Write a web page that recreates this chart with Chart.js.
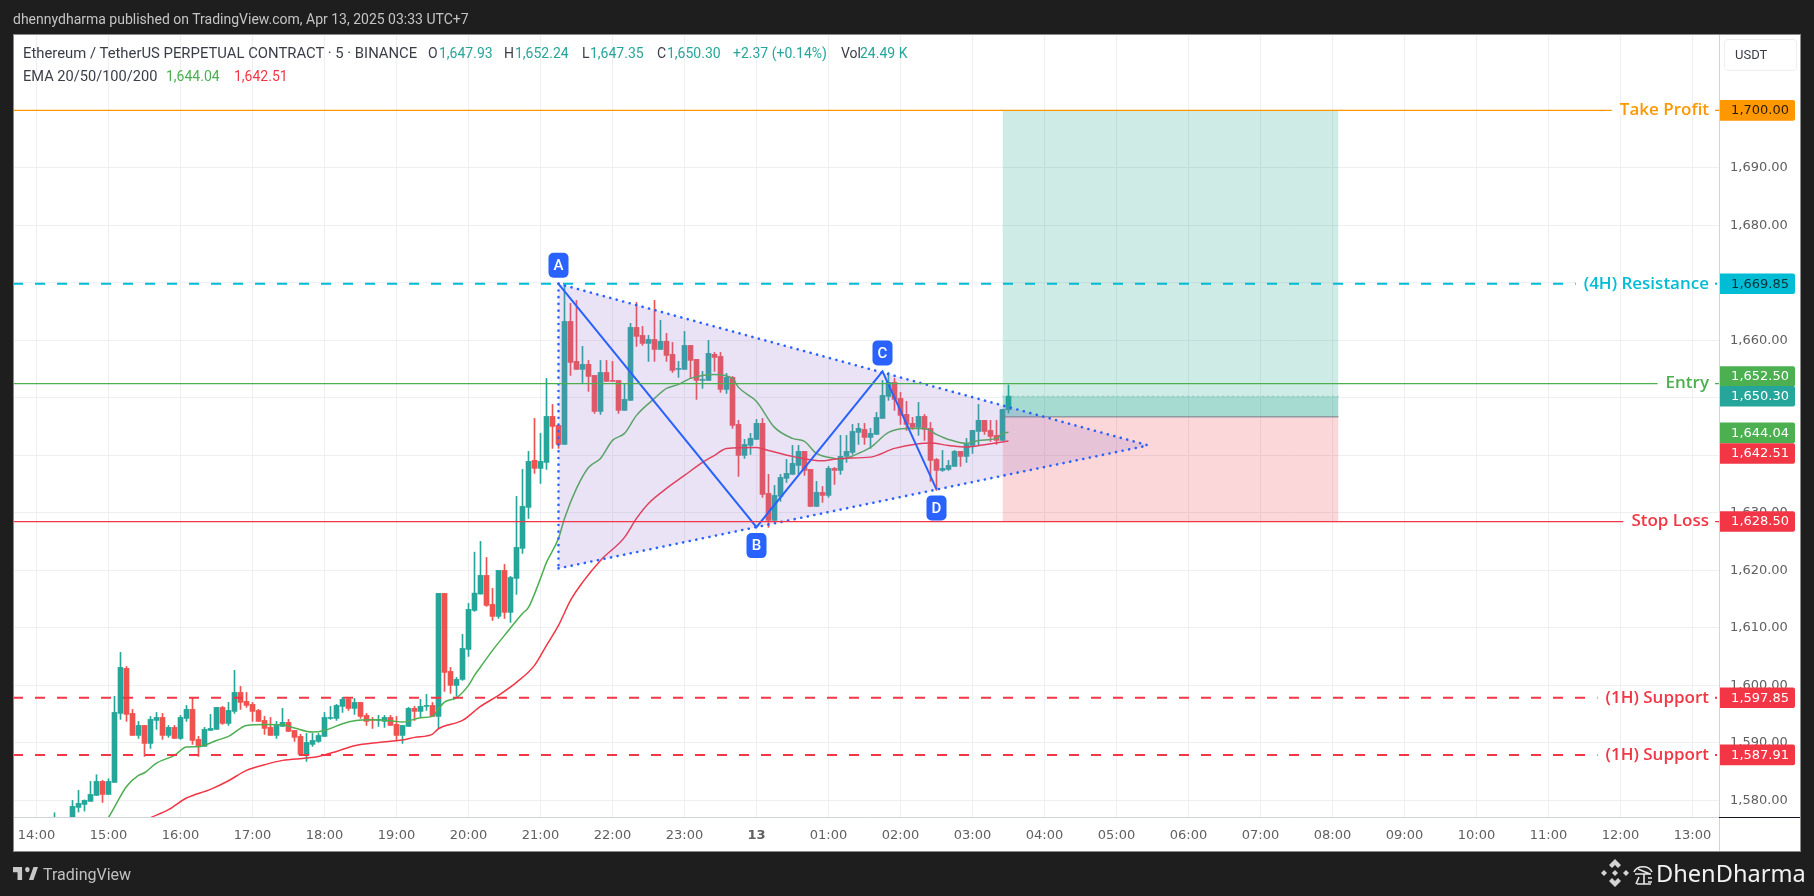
<!DOCTYPE html>
<html>
<head>
<meta charset="utf-8">
<title>ETHUSDT.P 5m</title>
<script src="https://cdn.jsdelivr.net/npm/chart.js@4/dist/chart.umd.min.js"></script>
<style>
  html, body { margin: 0; padding: 0; background: #1e1e1e; }
  body { width: 1814px; height: 896px; overflow: hidden; position: relative; font-family: Roboto, sans-serif; }
  canvas { position: absolute; left: 0; top: 0; }
  .t { position: absolute; white-space: pre; line-height: 18px; font-size: 14px; }
  .dark { color: #3b3e49; }
  .up { color: #26a69a; }
</style>
</head>
<body>
<canvas id="myChart" width="1814" height="896"></canvas>

<div class="t" style="left:13px;top:10px;color:#c4c4c4;font-size:14px">dhennydharma published on TradingView.com, Apr 13, 2025 03:33 UTC+7</div>

<div class="t dark" style="left:23px;top:44px;font-size:14.85px">Ethereum / TetherUS PERPETUAL CONTRACT · 5 · BINANCE</div>
<div class="t dark" style="left:428px;top:44px">O</div><div class="t up" style="left:439px;top:44px">1,647.93</div>
<div class="t dark" style="left:504px;top:44px">H</div><div class="t up" style="left:515px;top:44px">1,652.24</div>
<div class="t dark" style="left:582px;top:44px">L</div><div class="t up" style="left:590px;top:44px">1,647.35</div>
<div class="t dark" style="left:657px;top:44px">C</div><div class="t up" style="left:667px;top:44px">1,650.30</div>
<div class="t up" style="left:733px;top:44px">+2.37 (+0.14%)</div>
<div class="t dark" style="left:841px;top:44px">Vol</div><div class="t up" style="left:860px;top:44px">24.49 K</div>
<div class="t dark" style="left:23px;top:67px;font-size:14.6px">EMA 20/50/100/200</div>
<div class="t" style="left:166px;top:67px;color:#4caf50">1,644.04</div>
<div class="t" style="left:234px;top:67px;color:#f23645">1,642.51</div>

<div style="position:absolute;left:1724px;top:39px;width:71px;height:30px;border:1px solid #eeeeee;border-radius:4px"></div>
<div class="t dark" style="left:1735px;top:46px;font-size:13px">USDT</div>

<svg style="position:absolute;left:13px;top:867px" width="25" height="13" viewBox="2 6 33 15" preserveAspectRatio="none"><path fill="#c8c8c8" d="M14 6H2v6h6v9h6V6zm15 15h-6l6-15h6l-6 15zm-8-9a3 3 0 1 0 0-6 3 3 0 0 0 0 6z"/></svg>
<div class="t" style="left:43px;top:866px;color:#c0c0c0;font-size:16px">TradingView</div>

<svg style="position:absolute;left:1600px;top:858px" width="30" height="30" viewBox="0 0 30 30"><g fill="#d4d4d4"><path d="M15 1l6 6-3 3-3-3-3 3-3-3z"/><path d="M15 29l6-6-3-3-3 3-3-3-3 3z"/><path d="M4 12l3 3-3 3-3-3z"/><path d="M26 12l3 3-3 3-3-3z"/><path d="M15 12l3 3-3 3-3-3z"/></g></svg>
<svg style="position:absolute;left:1632px;top:862px" width="22" height="24" viewBox="0 0 22 24"><g fill="none" stroke="#e8e8e8" stroke-width="1.6"><path d="M2 10C5 3 17 3 20 10"/><path d="M3 12h16M6 7l12 5M5 22h14M12 12v10M7 15l-3 7M16 16h4M16 20h4"/></g></svg>
<div class="t" style="left:1656px;top:858px;color:#f2f2f2;font-size:23.6px;line-height:30px;font-family:'Noto Sans'">DhenDharma</div>

<script>
// first candle sits 3 bars after the 14:00 tick, one bar = 5 minutes
var firstIdx = 3;

var opens = [1574.2,1575.0,1575.9,1576.5,1578.78,1579.30,1579.83,1580.87,1583.30,1581.04,1583.13,1595.13,1602.96,1595.13,1591.30,1593.04,1589.91,1593.91,1594.43,1591.30,1592.70,1590.78,1594.26,1595.83,1590.61,1589.39,1592.17,1592.35,1596.17,1593.39,1595.48,1598.78,1597.22,1596.70,1595.65,1593.91,1592.70,1591.30,1592.87,1593.57,1592.17,1591.13,1588.0,1589.74,1590.26,1591.13,1594.26,1594.26,1596.35,1597.57,1596.0,1597.04,1594.78,1594.09,1593.91,1593.74,1594.43,1593.22,1591.30,1592.87,1596.0,1595.48,1596.35,1596.52,1594.61,1616.0,1602.43,1600.0,1601.04,1606.26,1613.04,1615.88,1619.13,1614.09,1612.0,1620.0,1612.70,1618.61,1623.83,1630.96,1639.13,1637.74,1638.78,1646.78,1645.22,1641.91,1663.30,1656.35,1654.96,1655.83,1653.91,1647.65,1654.43,1653.04,1653.04,1647.83,1649.57,1662.26,1660.87,1659.48,1660.17,1658.43,1659.83,1657.57,1654.96,1654.96,1659.13,1656.70,1653.04,1653.04,1657.57,1657.22,1651.48,1653.57,1645.39,1640.0,1641.74,1642.78,1645.57,1633.39,1628.70,1632.87,1636.0,1636.70,1638.26,1640.70,1637.57,1631.13,1633.57,1633.04,1637.74,1637.39,1639.83,1640.52,1644.0,1644.52,1643.13,1643.65,1646.43,1650.26,1652.70,1649.91,1647.13,1645.57,1644.87,1646.78,1644.70,1639.30,1637.39,1637.57,1638.09,1640.70,1639.83,1641.74,1644.17,1646.09,1644.35,1643.48,1642.61,1647.93];
var highs = [1577.85,1576.4,1576.8,1580.0,1581.74,1580.1,1583.30,1584.46,1583.48,1583.77,1598.09,1605.74,1603.30,1595.83,1593.74,1593.04,1594.61,1595.30,1595.13,1593.04,1593.04,1594.78,1596.52,1597.91,1591.13,1592.70,1594.96,1596.17,1596.35,1597.04,1602.61,1599.83,1598.78,1597.04,1595.83,1594.61,1594.43,1593.74,1596.0,1594.09,1592.17,1591.48,1591.65,1591.65,1591.65,1595.30,1596.35,1596.70,1597.91,1597.74,1597.74,1597.04,1595.13,1594.43,1594.78,1594.78,1594.78,1594.61,1593.04,1596.17,1596.35,1597.57,1598.43,1597.04,1616.0,1616.0,1603.13,1601.39,1608.87,1614.26,1623.18,1625.04,1622.26,1616.87,1620.0,1621.04,1618.96,1632.87,1637.57,1640.70,1646.43,1643.83,1653.39,1648.87,1645.22,1669.91,1666.43,1666.96,1658.96,1656.52,1653.91,1656.52,1656.52,1656.35,1653.04,1652.35,1662.96,1666.61,1662.43,1660.87,1666.96,1663.48,1661.22,1659.65,1656.35,1661.57,1659.13,1656.70,1654.61,1660.0,1657.91,1657.91,1654.26,1653.74,1646.09,1642.78,1643.83,1646.26,1646.43,1636.70,1634.78,1636.70,1639.30,1641.74,1641.74,1640.70,1637.57,1635.48,1634.61,1638.09,1637.91,1643.48,1643.48,1645.39,1645.57,1645.57,1644.70,1647.48,1653.04,1654.43,1653.39,1650.96,1649.39,1646.61,1649.22,1647.13,1645.74,1639.48,1640.87,1639.13,1640.87,1640.70,1642.96,1644.35,1648.87,1646.09,1646.09,1646.09,1648.0,1652.24];
var lows = [1573.6,1574.4,1575.3,1576.2,1577.97,1578.14,1579.83,1580.87,1579.65,1581.04,1583.13,1594.09,1593.74,1591.30,1590.78,1587.65,1589.04,1592.35,1590.61,1590.96,1590.78,1590.61,1593.74,1589.74,1587.65,1589.39,1592.17,1592.35,1593.22,1593.04,1595.13,1595.83,1596.17,1593.74,1593.74,1591.48,1591.30,1590.78,1592.87,1592.0,1590.26,1587.83,1586.78,1589.39,1590.09,1591.13,1594.09,1593.91,1595.30,1595.65,1594.96,1594.26,1593.04,1592.52,1592.87,1592.70,1593.04,1590.43,1589.91,1592.87,1593.91,1594.43,1595.65,1594.61,1592.52,1598.96,1598.61,1598.09,1600.87,1605.04,1612.87,1615.88,1613.74,1611.30,1611.65,1611.65,1610.96,1615.83,1622.96,1629.04,1636.87,1635.13,1637.57,1641.22,1641.22,1641.91,1653.91,1654.96,1652.52,1651.13,1647.30,1647.13,1652.87,1652.87,1647.30,1647.83,1649.57,1658.96,1659.13,1656.35,1656.35,1658.43,1656.35,1654.43,1653.57,1654.96,1653.39,1649.74,1651.65,1653.04,1654.61,1650.96,1650.78,1644.70,1636.35,1639.48,1640.17,1642.78,1632.70,1627.48,1628.70,1632.0,1635.30,1636.70,1636.70,1636.52,1631.13,1631.13,1631.83,1632.70,1634.96,1636.70,1638.78,1640.17,1641.91,1641.91,1641.22,1643.65,1646.43,1649.57,1647.83,1645.39,1644.35,1644.52,1643.48,1642.61,1635.48,1633.91,1637.22,1637.39,1638.09,1638.09,1638.78,1640.35,1641.74,1643.65,1642.43,1641.91,1642.61,1647.35];
var closes = [1575.0,1575.9,1576.5,1578.96,1579.48,1580.0,1581.04,1583.30,1581.04,1583.30,1595.30,1603.13,1594.96,1591.30,1593.04,1589.91,1594.09,1594.43,1591.30,1592.70,1590.78,1594.43,1595.83,1590.43,1589.39,1592.35,1592.52,1596.17,1593.39,1595.65,1598.78,1597.04,1596.52,1595.48,1593.74,1592.52,1591.30,1593.04,1593.57,1592.0,1590.96,1588.0,1590.09,1590.43,1591.30,1594.43,1594.43,1596.52,1597.57,1596.0,1597.04,1594.61,1593.74,1593.91,1594.09,1594.43,1593.04,1591.30,1593.04,1596.0,1595.48,1596.35,1596.52,1594.61,1616.0,1602.26,1600.0,1601.04,1606.43,1613.22,1616.05,1619.13,1613.91,1612.0,1620.0,1612.70,1618.78,1624.0,1631.13,1638.96,1637.74,1638.96,1646.78,1645.04,1641.91,1663.30,1656.17,1654.96,1655.83,1653.74,1647.65,1654.43,1652.87,1652.87,1647.83,1649.74,1662.26,1660.70,1659.48,1660.17,1658.43,1659.83,1657.39,1654.78,1655.13,1659.13,1656.52,1653.04,1653.22,1657.74,1657.04,1651.48,1653.57,1645.22,1640.0,1641.91,1642.96,1645.57,1633.22,1628.70,1633.04,1636.17,1636.87,1638.61,1640.70,1637.39,1631.13,1633.57,1633.04,1637.74,1637.39,1639.83,1640.70,1644.17,1644.70,1643.13,1643.83,1646.61,1650.43,1652.70,1649.74,1646.96,1645.39,1644.87,1646.78,1644.52,1639.13,1637.39,1637.74,1638.26,1640.70,1639.83,1641.91,1644.35,1646.09,1644.17,1643.30,1642.61,1648.0,1650.30];

var emaFastIdx = [12,13,15,17,18,20,23,25,27,30,32,35,38,41,43,46,48,51,53,56,59,61,64,66,67,68,70,72,73,74,76,78,80,81,82,84,85,87,88,90,92,94,96,98,100,103,105,107,109,113,116,117,120,123,126,128,130,133,134,137,139,142,145,148,150,152,155,157,160,161,162];
var emaFast = [1577.0,1578.84,1582.43,1584.35,1584.81,1586.49,1587.83,1589.27,1589.33,1590.43,1591.13,1593.04,1593.22,1593.16,1592.58,1591.88,1592.17,1593.33,1593.85,1594.03,1593.85,1593.62,1594.38,1594.61,1595.94,1597.10,1597.85,1600.0,1601.74,1603.19,1606.09,1608.70,1611.30,1612.52,1613.57,1618.61,1621.39,1625.57,1629.04,1634.26,1637.91,1639.48,1642.61,1643.83,1646.96,1649.91,1651.65,1652.35,1653.39,1654.09,1653.39,1651.83,1649.39,1644.87,1642.96,1642.43,1640.35,1639.48,1639.30,1640.35,1641.39,1644.0,1644.70,1644.70,1643.65,1642.78,1642.09,1642.61,1642.96,1643.83,1644.04];
var emaSlowIdx = [19,22,25,29,32,35,38,41,45,47,50,53,57,61,63,66,67,71,74,77,80,83,85,87,89,91,94,98,100,102,105,108,111,113,115,120,122,126,131,134,139,143,147,149,152,155,158,162];
var emaSlow = [1577.0,1578.38,1580.41,1581.91,1583.42,1585.22,1586.2,1586.96,1587.36,1587.65,1588.52,1589.51,1590.09,1590.49,1590.96,1591.54,1592.46,1593.91,1596.35,1598.26,1600.52,1603.48,1606.96,1610.43,1614.78,1617.91,1621.74,1625.74,1629.04,1631.65,1634.26,1636.52,1638.78,1640.0,1641.22,1641.39,1640.87,1639.83,1639.05,1639.48,1639.7,1641.22,1642.04,1642.14,1641.74,1641.45,1641.86,1642.51];

// drawings
var triangleIdx = [87, 185.3];
var triangleHigh = [1669.85, 1641.74];
var triangleLow = [1620.35, 1641.74];
var patternIdx = [87, 120, 141, 150];
var patternPrice = [1669.85, 1627.53, 1654.61, 1634.09];
var patternNames = ["A", "B", "C", "D"];
var positionIdx = [161, 217];
var targetPrice = 1700, entryPrice = 1646.7, stopPrice = 1628.5, lastPrice = 1650.3;

var levelPrices = [1700, 1669.85, 1652.5, 1628.5, 1597.85, 1587.91];
var levelNames = ["Take Profit", "(4H) Resistance", "Entry", "Stop Loss", "(1H) Support", "(1H) Support"];
var levelColors = ["#ff9800", "#00bcd4", "#4caf50", "#f23645", "#f23645", "#f23645"];
var levelDashed = [false, true, false, false, true, true];

// price tags on the axis, nudge = how far TradingView pushes them apart
var tagPrices = [1700, 1669.85, 1652.5, 1650.3, 1644.04, 1642.51, 1628.5, 1597.85, 1587.91];
var tagColors = ["#ff9800", "#00bcd4", "#4caf50", "#26a69a", "#4caf50", "#f23645", "#f23645", "#f23645", "#f23645"];
var tagText = ["#2a1c00", "#05323a", "#fff", "#fff", "#fff", "#fff", "#fff", "#fff", "#fff"];
var tagNudge = [0, 0, -7, 0, 0.7, 12.5, 0, 0, 0];

var timeLabels = ["14:00","15:00","16:00","17:00","18:00","19:00","20:00","21:00","22:00","23:00","13","01:00","02:00","03:00","04:00","05:00","06:00","07:00","08:00","09:00","10:00","11:00","12:00","13:00"];
var priceTicks = [1580,1590,1600,1610,1620,1630,1640,1650,1660,1670,1680,1690,1700];

var green = "#26a69a", red = "#ef5350", blue = "#2962ff";
var axisFont = "'DejaVu Sans', sans-serif";

var candleIdx = opens.map(function (v, k) { return firstIdx + k; });
var candleColors = opens.map(function (v, k) { return closes[k] >= v ? green : red; });
var xMin = candleIdx[0] - 6.9167, xMax = xMin + 1706 / 6;

function pts(xs, ys) {
    return xs.map(function (x, k) { return { x: x, y: ys[k] }; });
}

function hline(price, color, width, dash, order) {
    return {
        type: "line", data: [{ x: xMin, y: price }, { x: xMax, y: price }],
        borderColor: color, borderWidth: width, borderDash: dash, pointRadius: 0, order: order
    };
}

function band(from, to, color, order) {
    return {
        type: "line", data: pts(positionIdx, [from, from]), borderWidth: 0, pointRadius: 0,
        backgroundColor: color, fill: { value: to }, order: order
    };
}

function dotted(xs, ys, extra) {
    return Object.assign({
        type: "line", data: pts(xs, ys), borderColor: blue, borderWidth: 2.6, borderDash: [0.1, 6.6],
        borderCapStyle: "round", pointRadius: 0, order: 5
    }, extra || {});
}

var datasets = [
    // 0,1,2 position tool
    band(targetPrice, entryPrice, "rgba(8,153,129,0.2)", 20),
    band(lastPrice, entryPrice, "rgba(8,153,129,0.2)", 19),
    band(entryPrice, stopPrice, "rgba(242,54,69,0.2)", 18),
    // 3 triangle bottom, 4 triangle top with fill down to dataset 3
    dotted(triangleIdx, triangleLow, { order: 4 }),
    dotted(triangleIdx, triangleHigh, { order: 4, fill: { target: 3 }, backgroundColor: "rgba(149,117,205,0.2)" }),
    dotted([87, 87], [triangleHigh[0], triangleLow[0]], { order: 4 }),
    // candles
    {
        type: "bar", data: candleIdx.map(function (x, k) { return { x: x, y: [lows[k], highs[k]] }; }),
        backgroundColor: candleColors, grouped: false, maxBarThickness: 1,
        barPercentage: 1, categoryPercentage: 1, order: 12
    },
    {
        type: "bar", data: candleIdx.map(function (x, k) { return { x: x, y: [opens[k], closes[k]] }; }),
        backgroundColor: candleColors, grouped: false, maxBarThickness: 5,
        barPercentage: 1, categoryPercentage: 1, order: 11
    },
    { type: "line", data: pts(emaFastIdx, emaFast), borderColor: "#4caf50", borderWidth: 1.5, pointRadius: 0, cubicInterpolationMode: "monotone", order: 10 },
    { type: "line", data: pts(emaSlowIdx, emaSlow), borderColor: "#f23645", borderWidth: 1.5, pointRadius: 0, cubicInterpolationMode: "monotone", order: 9 },
    // A-B-C-D
    { type: "line", data: pts(patternIdx, patternPrice), borderColor: blue, borderWidth: 2, pointRadius: 0, order: 3 },
    // position entry line
    { type: "line", data: pts(positionIdx, [entryPrice, entryPrice]), borderColor: "#787b86", borderWidth: 1, pointRadius: 0, order: 6 },
    { type: "line", data: pts(positionIdx, [lastPrice, lastPrice]), borderColor: "rgba(8,153,129,0.5)", borderWidth: 1, borderDash: [1, 4], pointRadius: 0, order: 6 }
];
levelPrices.forEach(function (p, k) {
    datasets.push(hline(p, levelColors[k], levelDashed[k] ? 2 : 1.2, levelDashed[k] ? [10, 12] : [], 2));
});

function roundBox(ctx, x, y, w, h, r) {
    ctx.beginPath();
    ctx.roundRect(x, y, w, h, r);
    ctx.fill();
}

var framePlugin = {
    id: "frame",
    beforeDraw: function (chart) {
        var ctx = chart.ctx;
        ctx.save();
        ctx.fillStyle = "#ffffff";
        ctx.fillRect(13, 34, 1788, 818);
        ctx.restore();
    },
    afterDraw: function (chart) {
        var ctx = chart.ctx, sx = chart.scales.x, sy = chart.scales.y;
        ctx.save();

        // line labels sit on a white patch close to the axis
        ctx.font = "600 17px 'Open Sans', sans-serif";
        ctx.textBaseline = "middle";
        ctx.textAlign = "right";
        levelPrices.forEach(function (p, k) {
            var y = sy.getPixelForValue(p), w = ctx.measureText(levelNames[k]).width;
            ctx.fillStyle = "#ffffff";
            ctx.fillRect(1709 - w - 8, y - 4, w + 14, 8);
            ctx.fillStyle = levelColors[k];
            ctx.fillText(levelNames[k], 1709, y);
        });

        // A B C D badges
        ctx.textAlign = "center";
        ctx.font = "500 15px Roboto, sans-serif";
        patternNames.forEach(function (n, k) {
            var x = sx.getPixelForValue(patternIdx[k]), y = sy.getPixelForValue(patternPrice[k]);
            var cy = y + (k % 2 ? 18.5 : -18.5);
            ctx.fillStyle = blue;
            roundBox(ctx, x - 10, cy - 12.5, 20, 25, 5);
            ctx.fillStyle = "#ffffff";
            ctx.fillText(n, x, cy + 1);
        });

        // axis tags
        ctx.font = "13px " + axisFont;
        ctx.textAlign = "right";
        tagPrices.forEach(function (p, k) {
            var cy = sy.getPixelForValue(p) + tagNudge[k];
            ctx.fillStyle = tagColors[k];
            roundBox(ctx, 1720, cy - 10.3, 75, 20.6, [0, 2, 2, 0]);
            ctx.fillStyle = tagText[k];
            ctx.fillText(p.toLocaleString("en-US", { minimumFractionDigits: 2 }), 1789, cy + 0.5);
        });

        // frame lines
        ctx.strokeStyle = "#d1d4dc";
        ctx.lineWidth = 1;
        ctx.beginPath();
        ctx.moveTo(1719.5, 34);
        ctx.lineTo(1719.5, 852);
        ctx.stroke();
        ctx.strokeStyle = "#131722";
        ctx.beginPath();
        ctx.moveTo(1719, 817.5);
        ctx.lineTo(1801, 817.5);
        ctx.stroke();
        ctx.strokeStyle = "#8a8a8a";
        ctx.strokeRect(13.5, 34.5, 1787, 817);
        ctx.restore();
    }
};

new Chart("myChart", {
    type: "bar",
    data: { datasets: datasets },
    plugins: [framePlugin],
    options: {
        responsive: false,
        animation: false,
        layout: { padding: { left: 13, top: 34, right: 13.3, bottom: 44 } },
        plugins: { legend: { display: false }, tooltip: { enabled: false } },
        scales: {
            x: {
                type: "linear", offset: false, min: xMin, max: xMax,
                grid: { color: "#eeeff2", offset: false, drawTicks: false },
                border: { color: "#d1d4dc" },
                afterBuildTicks: function (s) {
                    s.ticks = timeLabels.map(function (t, k) { return { value: k * 12 }; });
                },
                afterFit: function (s) { s.height = 35; },
                ticks: {
                    autoSkip: false, maxRotation: 0, padding: 11, color: "#606060",
                    font: function (c) {
                        return { family: axisFont, size: 13, weight: timeLabels[c.index] === "13" ? "bold" : "normal" };
                    },
                    callback: function (v) { return timeLabels[Math.round(v / 12)]; }
                }
            },
            y: {
                position: "right", min: 1700 - 706.6 / 5.75, max: 1700 + 76.4 / 5.75,
                grid: { color: "#eeeff2", drawTicks: false },
                border: { color: "#d1d4dc" },
                afterBuildTicks: function (s) {
                    s.ticks = priceTicks.map(function (v) { return { value: v }; });
                },
                afterFit: function (s) { s.width = 81.7; },
                ticks: {
                    padding: 11, color: "#606060", font: { family: axisFont, size: 13 },
                    callback: function (v) { return v.toLocaleString("en-US", { minimumFractionDigits: 2 }); }
                }
            }
        }
    }
});
</script>
</body>
</html>
